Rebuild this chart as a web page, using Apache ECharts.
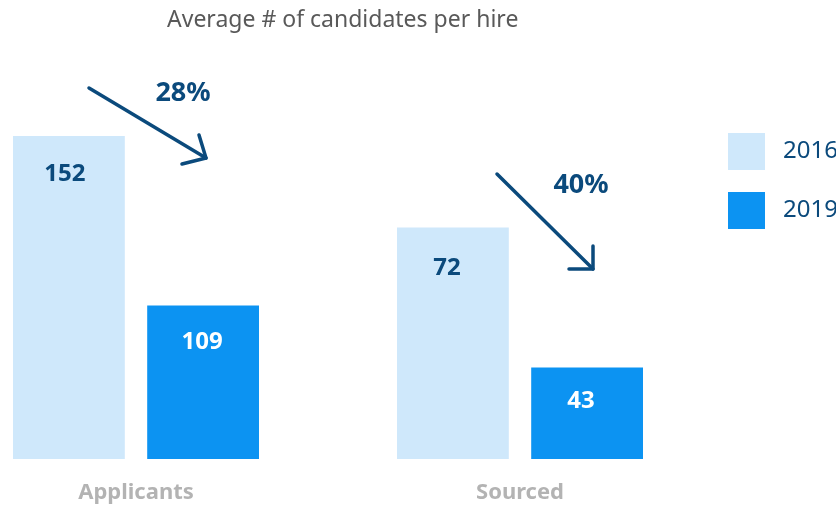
<!DOCTYPE html>
<html><head><meta charset="utf-8">
<script src="https://cdn.jsdelivr.net/npm/echarts/dist/echarts.min.js"></script>
<style>html,body{margin:0;padding:0;background:#fff}#c{width:836px;height:507px}</style>
</head><body><div id="c"></div>
<script>
const chartTitle = 'Average # of candidates per hire';
const categories = ['Applicants', 'Sourced'];
const years = ['2016', '2019'];
const values2016 = [152, 72];
const values2019 = [109, 43];
// per-group value-axis ranges (the reference draws each group on its own scale)
const axisMin = [70, 24];
const axisMax = [152, 91];

const FONT = 'Noto Sans';
const DARK = '#0b4a7c';
const LIGHT_BAR = '#cfe8fb';
const DARK_BAR = '#0c93f2';
const LABEL_STYLE = {
  a: [{distance: 26, offset: [-4, 0]}, {distance: 29, offset: [-6, 0]}],
  b: [{distance: 25, offset: [-1, 0]}, {distance: 22, offset: [-6, 0]}]
};

const pct = categories.map((c, i) => Math.round((values2016[i] - values2019[i]) / values2016[i] * 100) + '%');

const gridLefts = [13, 397];
const grids = categories.map((c, i) => ({left: gridLefts[i], width: 246, top: 136, bottom: 48, outerBoundsMode: 'none', containLabel: false}));
const xAxes = categories.map((c, i) => ({
  type: 'category', gridIndex: i, data: [c],
  axisLine: {show: false}, axisTick: {show: false}, splitLine: {show: false},
  axisLabel: {margin: 23, fontSize: 22, fontWeight: 'bold', color: '#b3b3b3', fontFamily: FONT}
}));
const yAxes = categories.map((c, i) => ({type: 'value', gridIndex: i, min: axisMin[i], max: axisMax[i], show: false}));
const series = [];
categories.forEach((c, i) => {
  series.push({
    name: years[0], type: 'bar', xAxisIndex: i, yAxisIndex: i, data: [values2016[i]],
    barWidth: 112, barGap: '20%', itemStyle: {color: LIGHT_BAR},
    label: Object.assign({show: true, position: 'insideTop', fontSize: 24, fontWeight: 'bold', color: DARK, fontFamily: FONT}, LABEL_STYLE.a[i])
  });
  series.push({
    name: years[1], type: 'bar', xAxisIndex: i, yAxisIndex: i, data: [values2019[i]],
    barWidth: 112, barGap: '20%', itemStyle: {color: DARK_BAR},
    label: Object.assign({show: true, position: 'insideTop', fontSize: 24, fontWeight: 'bold', color: '#ffffff', fontFamily: FONT}, LABEL_STYLE.b[i])
  });
});

const arrowStyle = {stroke: DARK, lineWidth: 3.5, lineCap: 'round', lineJoin: 'round', fill: null};
const graphic = [
  {type: 'line', shape: {x1: 89, y1: 88, x2: 206, y2: 158}, style: arrowStyle},
  {type: 'polyline', shape: {points: [[199, 135], [206, 158], [182, 164]]}, style: arrowStyle},
  {type: 'line', shape: {x1: 497, y1: 174, x2: 593, y2: 269}, style: arrowStyle},
  {type: 'polyline', shape: {points: [[593, 246], [593, 269], [569, 269]]}, style: arrowStyle},
  {type: 'text', x: 183, y: 93, style: {text: pct[0], align: 'center', verticalAlign: 'middle', fontSize: 27, fontWeight: 'bold', fill: DARK, fontFamily: FONT}},
  {type: 'text', x: 581, y: 185, style: {text: pct[1], align: 'center', verticalAlign: 'middle', fontSize: 27, fontWeight: 'bold', fill: DARK, fontFamily: FONT}}
];

const chart = echarts.init(document.getElementById('c'));
chart.setOption({
  animation: false,
  backgroundColor: '#ffffff',
  title: {text: chartTitle, left: 162, top: 4, textStyle: {fontSize: 23, fontWeight: 'normal', color: '#595959', fontFamily: FONT}},
  legend: {
    data: years, orient: 'vertical', left: 728, top: 133, padding: 0, itemWidth: 37, itemHeight: 37, itemGap: 22,
    icon: 'rect', textStyle: {fontSize: 24, color: DARK, fontFamily: FONT, padding: [0, 0, 0, 13]}
  },
  grid: grids, xAxis: xAxes, yAxis: yAxes, series: series, graphic: graphic
});
</script></body></html>
